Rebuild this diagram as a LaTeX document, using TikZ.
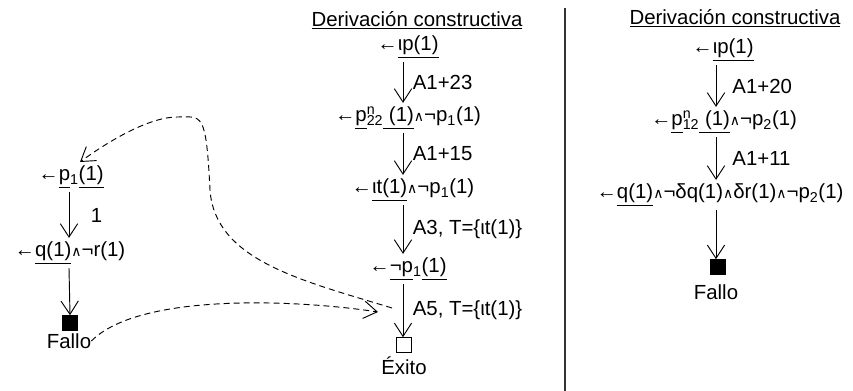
\documentclass[tikz,border=0pt]{standalone}
\usepackage{fontspec}
\setmainfont{Liberation Sans}
\newfontfamily\symfont{DejaVu Sans}
\usetikzlibrary{arrows.meta}
\newcommand{\goalarrow}{←}
\newcommand{\yand}{{\symfont\fontsize{10.5}{11}\selectfont ∧}}
\begin{document}
\begin{tikzpicture}[x=0.75pt, y=-0.75pt,
    every node/.style={font=\fontsize{15.3}{18}\selectfont},
    goal/.style={inner sep=3pt},
    rule/.style={-{Straight Barb[length=10pt,width=13pt]}, line width=0.7pt},
    rulename/.style={right, inner sep=0pt, xshift=7pt},
    link/.style={-{Straight Barb[length=10pt,width=13pt]}, dash pattern=on 4.5pt off 3pt, line width=0.7pt},
    endbox/.style={draw, line width=0.7pt, minimum size=11pt, inner sep=0pt}]
    \useasboundingbox (0,0) rectangle (853,391);
    \coordinate (lx) at (69,0);
    \coordinate (mx) at (403,0);
    \coordinate (rx) at (716,0);
    % left: the derivation that fails
    \node[goal] (l0) at (71,177) {\goalarrow\underline{p}\textsubscript{1}\underline{(1)}};
    \node[goal] (l1) at (70,253) {\goalarrow\underline{q(1)}\yand¬r(1)};
    \node[endbox, fill] (l2) at (70,323) {};
    \node[inner sep=0pt] (lfail) at (69,341) {Fallo};
    \draw[rule] (l0.south -| lx) -- node[rulename, xshift=9pt] {1} (l1.north -| lx);
    \draw[rule] (l1.south -| lx) -- (l2.north);
    % middle: constructive derivation
    \node (t1) at (417,20) {\underline{Derivación constructiva}};
    \node[goal] (m0) at (408,47) {\goalarrow\underline{ιp(1)}};
    \node[goal] (m1) at (408,118) {\goalarrow\underline{p}\rlap{\textsuperscript{n}}\textsubscript{22}\underline{ (1)}\yand¬p\textsubscript{1}(1)};
    \node[goal] (m2) at (413,190) {\goalarrow\underline{ιt(1)}\yand¬p\textsubscript{1}(1)};
    \node[goal] (m3) at (408,269) {\goalarrow\underline{¬p}\textsubscript{1}\underline{(1)}};
    \node[endbox] (m4) at (404,345) {};
    \node[inner sep=0pt] (mok) at (404,366) {Éxito};
    \draw[rule] (m0.south -| mx) -- node[rulename] {A1+23} (m1.north -| mx);
    \draw[rule] (m1.south -| mx) -- node[rulename] {A1+15} (m2.north -| mx);
    \draw[rule] (m2.south -| mx) -- node[rulename] {A3, T=\{ιt(1)\}} (m3.north -| mx);
    \draw[rule] (m3.south -| mx) -- node[rulename] {A5, T=\{ιt(1)\}} (m4.north -| mx);
    % separator
    \draw[line width=0.9pt, black!80] (565,8) -- (565,391);
    % right: constructive derivation that fails
    \node (t2) at (735,18) {\underline{Derivación constructiva}};
    \node[goal] (r0) at (723,50) {\goalarrow\underline{ιp(1)}};
    \node[goal] (r1) at (724,122) {\goalarrow\underline{p}\rlap{\textsuperscript{n}}\textsubscript{12}\underline{ (1)}\yand¬p\textsubscript{2}(1)};
    \node[goal] (r2) at (720,195) {\goalarrow\underline{q(1)}\yand¬δq(1)\yand δr(1)\yand¬p\textsubscript{2}(1)};
    \node[endbox, fill] (r3) at (718,267) {};
    \node[inner sep=0pt] (rfail) at (716,292) {Fallo};
    \draw[rule] (r0.south -| rx) -- node[rulename, xshift=5pt] {A1+20} (r1.north -| rx);
    \draw[rule] (r1.south -| rx) -- node[rulename, xshift=5pt] {A1+11} (r2.north -| rx);
    \draw[rule] (r2.south -| rx) -- (r3.north -| rx);
    % dashed links between the two derivations
    \coordinate (hitA5) at (378,312);
    \coordinate (fromA5) at (392,308);
    \coordinate (backp1) at (80,162);
    \draw[link] (lfail.east) .. controls (140,292) and (300,300) .. (hitA5);
    \draw[link] (fromA5) .. controls (300,280) and (215,260) .. (210,190)
        .. controls (206,110) and (202,117) .. (177,117)
        .. controls (150,117) and (110,140) .. (backp1);
\end{tikzpicture}
\end{document}
